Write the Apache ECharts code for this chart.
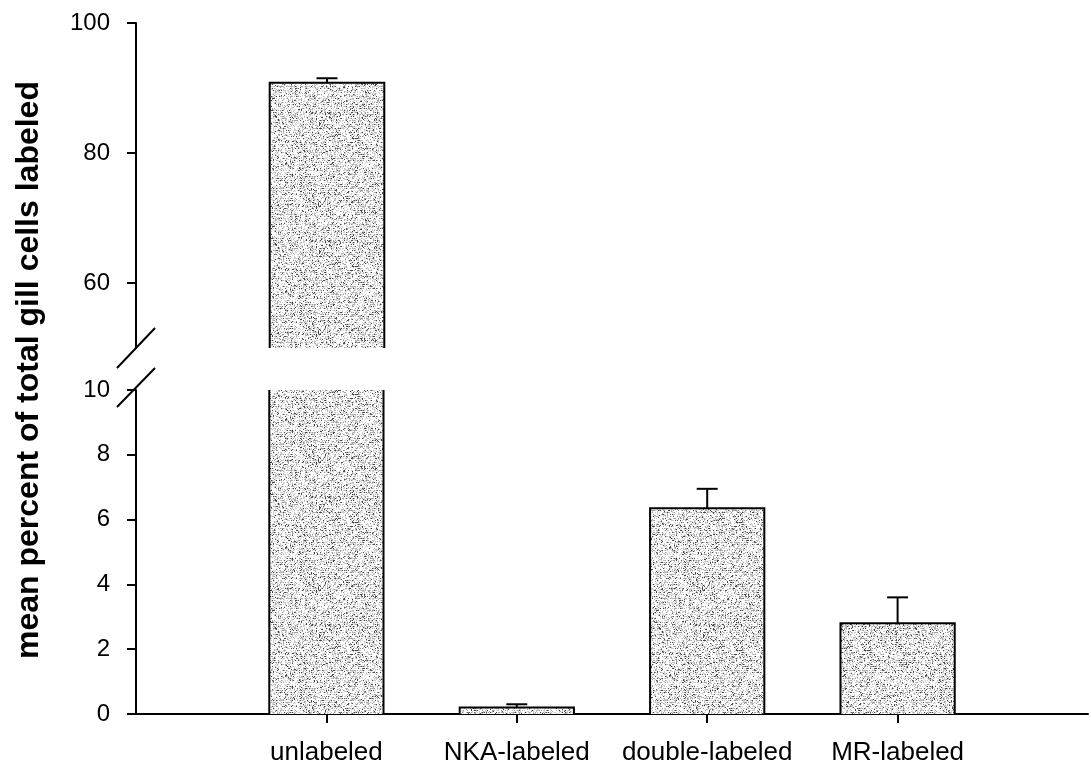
<!DOCTYPE html>
<html>
<head>
<meta charset="utf-8">
<script src="https://cdn.jsdelivr.net/npm/echarts@6/dist/echarts.min.js"></script>
<style>
html,body{margin:0;padding:0;background:#fff;}
#chart{width:1091px;height:769px;}
</style>
</head>
<body>
<div id="chart"></div>
<script>
// ---- data ----
const categories = ['', 'unlabeled', 'NKA-labeled', 'double-labeled', 'MR-labeled', ''];
const barIndex = [1, 2, 3, 4];
const meanValues = [90.8, 0.2, 6.35, 2.8];
const errorValues = [0.7, 0.1, 0.6, 0.8];
const lowerTicks = [0, 2, 4, 6, 8, 10];
const upperTicks = [60, 80, 100];
const upperRange = [50, 100];
const lowerRange = [0, 10];
const yTitle = 'mean percent of total gill cells labeled';

// ---- texture for bars ----
function makePattern() {
  const n = 128;
  const c = document.createElement('canvas');
  c.width = n; c.height = n;
  const ctx = c.getContext('2d');
  const img = ctx.createImageData(n, n);
  for (let y = 0; y < n; y++) {
    for (let x = 0; x < n; x++) {
      let h = Math.sin(x * 12.9898 + y * 78.233) * 43758.5453;
      h = h - Math.floor(h);
      const band = (y % 2 === 0) ? 0.28 : 0.10;
      let g = 255;
      if (h < band * 0.4) g = 70;
      else if (h < band) g = 160;
      else if (h < band + 0.22) g = 205;
      const i = (y * n + x) * 4;
      img.data[i] = g; img.data[i + 1] = g; img.data[i + 2] = g; img.data[i + 3] = 255;
    }
  }
  ctx.putImageData(img, 0, 0);
  return c;
}
const pattern = { image: makePattern(), repeat: 'repeat' };

function barRender(params, api) {
  const cs = params.coordSys;
  const x = api.value(0), v = api.value(1);
  const band = api.size([1, 0])[0];
  const w = band * 0.6;
  const pTop = api.coord([x, v]);
  const left = pTop[0] - w / 2, right = pTop[0] + w / 2;
  const bottom = cs.y + cs.height;
  const clipped = pTop[1] < cs.y;
  const top = clipped ? cs.y : pTop[1];
  if (top >= bottom) return null;
  const children = [
    { type: 'rect', shape: { x: left, y: top, width: w, height: bottom - top }, style: { fill: pattern } }
  ];
  const pts = clipped
    ? [[left, top], [left, bottom]]
    : [[left, bottom], [left, top], [right, top], [right, bottom]];
  children.push({ type: 'polyline', shape: { points: pts }, style: { stroke: '#000', lineWidth: 2, fill: null } });
  if (clipped) children.push({ type: 'line', shape: { x1: right, y1: top, x2: right, y2: bottom }, style: { stroke: '#000', lineWidth: 2 } });
  return { type: 'group', children: children };
}

function errRender(params, api) {
  const cs = params.coordSys;
  const x = api.value(0), v = api.value(1), e = api.value(2);
  const band = api.size([1, 0])[0];
  const cap = band * 0.11;
  const p0 = api.coord([x, v]);
  const p1 = api.coord([x, v + e]);
  if (p0[1] < cs.y || p1[1] > cs.y + cs.height) return null;
  return {
    type: 'group',
    children: [
      { type: 'line', shape: { x1: p0[0], y1: p0[1], x2: p1[0], y2: p1[1] }, style: { stroke: '#000', lineWidth: 2 } },
      { type: 'line', shape: { x1: p1[0] - cap / 2, y1: p1[1], x2: p1[0] + cap / 2, y2: p1[1] }, style: { stroke: '#000', lineWidth: 2 } }
    ]
  };
}

const upperData = [], lowerData = [];
barIndex.forEach((ci, i) => {
  const d = [ci, meanValues[i], errorValues[i]];
  lowerData.push(d);
  if (meanValues[i] > upperRange[0]) upperData.push(d);
});

const font = 'Liberation Sans, Arial, Helvetica, sans-serif';
const axisLineStyle = { color: '#000', width: 2 };

const chart = echarts.init(document.getElementById('chart'), null, { renderer: 'canvas' });
chart.setOption({
  backgroundColor: '#fff',
  animation: false,
  grid: [
    { left: 136, width: 958, top: 23, height: 325 },
    { left: 136, width: 958, top: 390, height: 324 }
  ],
  xAxis: [
    { type: 'category', gridIndex: 0, data: categories, boundaryGap: false, show: false },
    {
      type: 'category', gridIndex: 1, data: categories, boundaryGap: false,
      axisLine: { lineStyle: axisLineStyle },
      axisTick: { length: 9, lineStyle: axisLineStyle, interval: function (idx) { return idx >= 1 && idx <= 4; } },
      axisLabel: { interval: 0, color: '#000', fontSize: 26, fontFamily: font, margin: 26 },
      splitLine: { show: false }
    }
  ],
  yAxis: [
    {
      type: 'value', gridIndex: 0, min: upperRange[0], max: upperRange[1],
      axisLine: { show: true, lineStyle: axisLineStyle },
      axisTick: { show: true, length: 9, lineStyle: axisLineStyle, customValues: upperTicks },
      axisLabel: { color: '#000', fontSize: 24, fontFamily: font, margin: 26, customValues: upperTicks },
      splitLine: { show: false }
    },
    {
      type: 'value', gridIndex: 1, min: lowerRange[0], max: lowerRange[1],
      axisLine: { show: true, lineStyle: axisLineStyle },
      axisTick: { show: true, length: 9, lineStyle: axisLineStyle, customValues: lowerTicks },
      axisLabel: { color: '#000', fontSize: 24, fontFamily: font, margin: 26, customValues: lowerTicks },
      splitLine: { show: false }
    }
  ],
  series: [
    { type: 'custom', xAxisIndex: 0, yAxisIndex: 0, data: upperData, renderItem: barRender, encode: { x: 0, y: 1 } },
    { type: 'custom', xAxisIndex: 0, yAxisIndex: 0, data: upperData, renderItem: errRender, encode: { x: 0, y: 1 } },
    { type: 'custom', xAxisIndex: 1, yAxisIndex: 1, data: lowerData, renderItem: barRender, encode: { x: 0, y: 1 } },
    { type: 'custom', xAxisIndex: 1, yAxisIndex: 1, data: lowerData, renderItem: errRender, encode: { x: 0, y: 1 } }
  ],
  graphic: [
    { type: 'line', shape: { x1: 117, y1: 368, x2: 155, y2: 328 }, style: { stroke: '#000', lineWidth: 2 } },
    { type: 'line', shape: { x1: 117, y1: 407, x2: 155, y2: 368 }, style: { stroke: '#000', lineWidth: 2 } },
    {
      type: 'text', x: 29, y: 370, rotation: Math.PI / 2,
      style: { text: yTitle, font: 'bold 32px ' + font, fill: '#000', textAlign: 'center', textVerticalAlign: 'middle' }
    }
  ]
});
</script>
</body>
</html>
